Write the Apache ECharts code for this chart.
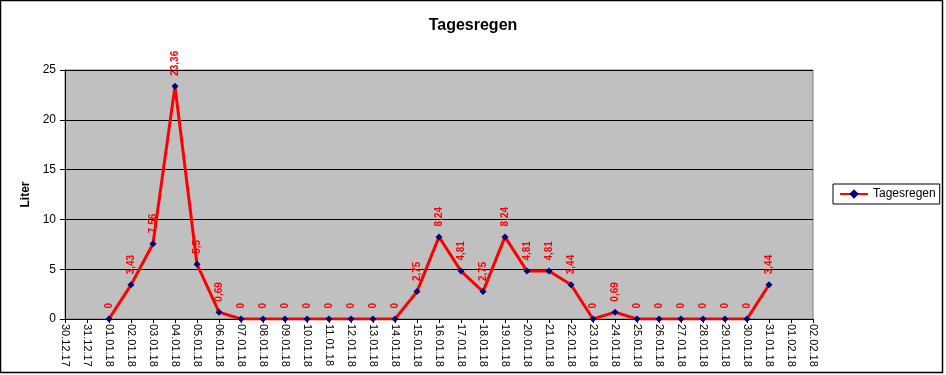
<!DOCTYPE html>
<html>
<head>
<meta charset="utf-8">
<script src="https://cdn.jsdelivr.net/npm/echarts@6/dist/echarts.min.js"></script>
<style>html,body{margin:0;padding:0;background:#fff}#c{width:946px;height:375px}</style>
</head>
<body>
<div id="c"></div>
<script>
var categories = ["30.12.17","31.12.17","01.01.18","02.01.18","03.01.18","04.01.18","05.01.18","06.01.18","07.01.18","08.01.18","09.01.18","10.01.18","11.01.18","12.01.18","13.01.18","14.01.18","15.01.18","16.01.18","17.01.18","18.01.18","19.01.18","20.01.18","21.01.18","22.01.18","23.01.18","24.01.18","25.01.18","26.01.18","27.01.18","28.01.18","29.01.18","30.01.18","31.01.18","01.02.18","02.02.18"];
var tagesregen = [null,null,0,3.43,7.56,23.36,5.5,0.69,0,0,0,0,0,0,0,0,2.75,8.24,4.81,2.75,8.24,4.81,4.81,3.44,0,0.69,0,0,0,0,0,0,3.44,null,null];
var yTicks = {min:0, max:25, interval:5};

var FONT = '"Liberation Sans", Arial, sans-serif';
var chart = echarts.init(document.getElementById('c'), null, {renderer:'canvas'});
chart.setOption({
  animation:false,
  backgroundColor:'#fff',
  title:{text:'Tagesregen', left:'center', top:13,
    textStyle:{fontFamily:FONT, fontWeight:'bold', fontSize:16, color:'#000'}},
  legend:{left:833, top:184, orient:'vertical', borderColor:'#000', borderWidth:1,
    padding:[4,4,4,6], itemWidth:28, itemHeight:12, itemGap:0,
    textStyle:{fontFamily:FONT, fontSize:12, color:'#000'},
    data:['Tagesregen']},
  grid:{left:65, right:133, top:70, bottom:56, show:true, backgroundColor:'#C0C0C0', borderColor:'#808080', borderWidth:1, containLabel:false},
  xAxis:{type:'category', data:categories, boundaryGap:false,
    axisLine:{show:true, lineStyle:{color:'#000', width:1}},
    axisTick:{show:true, interval:0, length:4, lineStyle:{color:'#000'}},
    axisLabel:{interval:0, rotate:-90, margin:5, fontFamily:FONT, fontSize:11, color:'#000'},
    splitLine:{show:false}},
  yAxis:{type:'value', min:yTicks.min, max:yTicks.max, interval:yTicks.interval,
    name:'Liter', nameLocation:'middle', nameGap:31,
    nameTextStyle:{fontFamily:FONT, fontWeight:'bold', fontSize:12, color:'#000'},
    axisLine:{show:true, lineStyle:{color:'#000', width:1}},
    axisTick:{show:true, length:5, lineStyle:{color:'#000'}},
    axisLabel:{margin:9, fontFamily:FONT, fontSize:12, color:'#000'},
    splitLine:{show:true, lineStyle:{color:'#000', width:1}}},
  series:[{
    name:'Tagesregen', type:'line', data:tagesregen, connectNulls:false,
    symbol:'diamond', symbolSize:7,
    itemStyle:{color:'#000080'},
    lineStyle:{color:'#FF0000', width:3},
    label:{show:true, position:'top', rotate:90, align:'left', verticalAlign:'middle', distance:7,
      fontFamily:FONT, fontWeight:'bold', fontSize:10, color:'#FF0000',
      formatter:function(p){return String(p.value).replace('.', ',');}}
  }],
  graphic:[{type:'rect', shape:{x:0.5, y:0.5, width:942, height:372}, style:{fill:null, stroke:'#000', lineWidth:1.5}, silent:true}]
});
</script>
</body>
</html>
